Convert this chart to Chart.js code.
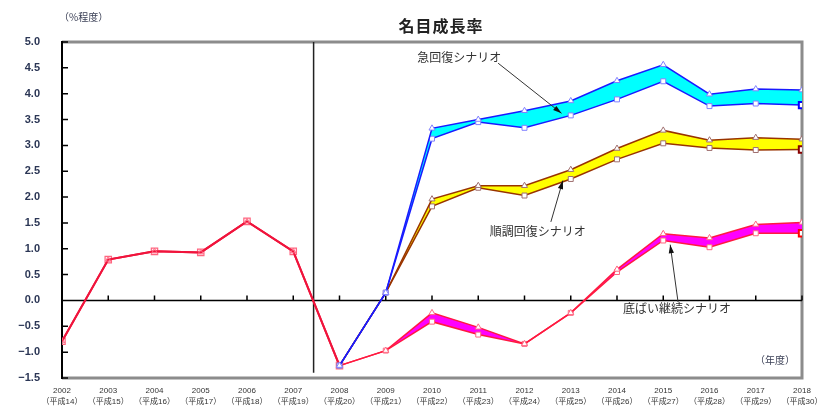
<!DOCTYPE html>
<html>
<head>
<meta charset="utf-8">
<script src="https://cdn.jsdelivr.net/npm/chart.js@4/dist/chart.umd.min.js"></script>
<style>
  html, body { margin: 0; padding: 0; background: #fff; }
  #wrap { width: 821px; height: 407px; }
</style>
</head>
<body>
<div id="wrap"><canvas id="growthChart"></canvas></div>
<script>
// x axis
const yearLabels = ['2002', '2003', '2004', '2005', '2006', '2007', '2008', '2009', '2010',
  '2011', '2012', '2013', '2014', '2015', '2016', '2017', '2018'];
const heiseiLabels = ['（平成14）', '（平成15）', '（平成16）', '（平成17）', '（平成18）', '（平成19）',
  '（平成20）', '（平成21）', '（平成22）', '（平成23）', '（平成24）', '（平成25）', '（平成26）',
  '（平成27）', '（平成28）', '（平成29）', '（平成30）'];
const yTickLabels = ['−1.5', '−1.0', '−0.5', '0.0', '0.5', '1.0', '1.5', '2.0', '2.5',
  '3.0', '3.5', '4.0', '4.5', '5.0'];

// actual values 2002-2008
const histYears = [2002, 2003, 2004, 2005, 2006, 2007, 2008];
const histValues = [-0.79, 0.79, 0.95, 0.93, 1.53, 0.95, -1.26];

// scenarios 2008-2018 (upper / lower edge of each band)
const scenarioYears = [2008, 2009, 2010, 2011, 2012, 2013, 2014, 2015, 2016, 2017, 2018];
const rapidHigh  = [-1.26, 0.15, 3.33, 3.50, 3.67, 3.86, 4.25, 4.56, 3.99, 4.09, 4.07];
const rapidLow   = [-1.26, 0.15, 3.13, 3.45, 3.34, 3.58, 3.89, 4.24, 3.76, 3.81, 3.78];
const steadyHigh = [-1.26, 0.15, 1.96, 2.22, 2.22, 2.53, 2.94, 3.29, 3.10, 3.15, 3.12];
const steadyLow  = [-1.26, 0.15, 1.82, 2.18, 2.03, 2.35, 2.73, 3.04, 2.95, 2.91, 2.92];
const flatHigh   = [-1.26, -0.97, -0.24, -0.52, -0.84, -0.24, 0.60, 1.29, 1.21, 1.47, 1.51];
const flatLow    = [-1.26, -0.97, -0.41, -0.66, -0.84, -0.24, 0.55, 1.16, 1.03, 1.30, 1.30];

const dividerYear = 2007.44;

function pts(xs, vals) {
  return vals.map((v, i) => ({ x: xs[i], y: v }));
}

const last = scenarioYears.length - 1;
function edge(data, line, marker, style, fillColor, lastColor) {
  return {
    data: data,
    borderColor: line,
    borderWidth: 1.5,
    backgroundColor: fillColor || 'transparent',
    fill: fillColor ? '+1' : false,
    pointStyle: style,
    pointRadius: c => (style === 'rect' && c.dataIndex === last) ? 4.5 : 3.5,
    pointBorderWidth: c => (style === 'rect' && c.dataIndex === last) ? 2 : 1,
    pointBorderColor: c => (style === 'rect' && c.dataIndex === last && lastColor) ? lastColor : marker,
    pointBackgroundColor: '#fff'
  };
}

const annotations = [
  { text: '急回復シナリオ', x: 2009.68, y: 4.71, from: [2011.43, 4.59], to: [2012.80, 3.62] },
  { text: '順調回復シナリオ', x: 2011.25, y: 1.33, from: [2012.57, 1.52], to: [2012.83, 2.32] },
  { text: '底ばい継続シナリオ', x: 2014.13, y: -0.15, from: [2015.32, -0.03], to: [2015.15, 1.08] }
];

const framePlugin = {
  id: 'frame',
  beforeDraw(chart) {
    const { ctx, chartArea: a, scales: { x, y } } = chart;
    ctx.save();
    ctx.strokeStyle = '#8c8c8c';
    ctx.lineWidth = 3;
    ctx.beginPath();
    ctx.moveTo(a.left, a.top);
    ctx.lineTo(a.right, a.top);
    ctx.lineTo(a.right, a.bottom);
    ctx.lineTo(a.left, a.bottom);
    ctx.stroke();

    ctx.strokeStyle = '#000';
    ctx.lineWidth = 2;
    ctx.beginPath();
    ctx.moveTo(a.left, a.top - 1);
    ctx.lineTo(a.left, a.bottom + 1);
    ctx.stroke();

    ctx.lineWidth = 1.5;
    ctx.beginPath();
    y.ticks.forEach(t => {
      const py = y.getPixelForValue(t.value);
      ctx.moveTo(a.left, py);
      ctx.lineTo(a.left + 6, py);
    });
    const y0 = y.getPixelForValue(0);
    ctx.moveTo(a.left, y0);
    ctx.lineTo(a.right, y0);
    x.ticks.forEach(t => {
      const px = x.getPixelForValue(t.value);
      ctx.moveTo(px, y0);
      ctx.lineTo(px, y0 - 5);
    });
    ctx.stroke();

    const dx = x.getPixelForValue(dividerYear);
    ctx.strokeStyle = '#222';
    ctx.lineWidth = 1.5;
    ctx.beginPath();
    ctx.moveTo(dx, a.top);
    ctx.lineTo(dx, y.getPixelForValue(-1.4));
    ctx.stroke();
    ctx.restore();
  },
  afterDraw(chart) {
    const { ctx, chartArea: a, scales: { x, y } } = chart;
    ctx.save();
    ctx.fillStyle = '#222';
    ctx.font = 'bold 16px "Noto Sans CJK JP"';
    ctx.textAlign = 'center';
    ctx.textBaseline = 'middle';
    if ('letterSpacing' in ctx) ctx.letterSpacing = '1px';
    ctx.fillText('名目成長率', (a.left + a.right) / 2 + 9, 26);
    if ('letterSpacing' in ctx) ctx.letterSpacing = '0px';

    ctx.fillStyle = '#3a3f55';
    ctx.font = '10px "Noto Sans CJK JP"';
    ctx.textAlign = 'left';
    ctx.fillText('（%程度）', 59, 17);
    ctx.fillText('（年度）', 755, 360);

    ctx.font = '12px "Noto Sans CJK JP"';
    annotations.forEach(n => {
      ctx.fillStyle = '#333';
      ctx.fillText(n.text, x.getPixelForValue(n.x), y.getPixelForValue(n.y));
      const x1 = x.getPixelForValue(n.from[0]), y1 = y.getPixelForValue(n.from[1]);
      const x2 = x.getPixelForValue(n.to[0]), y2 = y.getPixelForValue(n.to[1]);
      ctx.strokeStyle = '#333';
      ctx.lineWidth = 1;
      ctx.beginPath();
      ctx.moveTo(x1, y1);
      ctx.lineTo(x2, y2);
      ctx.stroke();
      const ang = Math.atan2(y2 - y1, x2 - x1);
      ctx.fillStyle = '#111';
      ctx.beginPath();
      ctx.moveTo(x2, y2);
      ctx.lineTo(x2 - 9 * Math.cos(ang - 0.3), y2 - 9 * Math.sin(ang - 0.3));
      ctx.lineTo(x2 - 9 * Math.cos(ang + 0.3), y2 - 9 * Math.sin(ang + 0.3));
      ctx.closePath();
      ctx.fill();
    });
    ctx.restore();
  }
};

new Chart(document.getElementById('growthChart'), {
  type: 'line',
  data: {
    datasets: [
      edge(pts(scenarioYears, rapidHigh), '#1a1aff', '#8080ff', 'triangle', '#00ffff'),
      edge(pts(scenarioYears, rapidLow), '#1a1aff', '#8080ff', 'rect', null, '#0000ff'),
      edge(pts(scenarioYears, steadyHigh), '#993300', '#a07070', 'triangle', '#ffff00'),
      edge(pts(scenarioYears, steadyLow), '#993300', '#a07070', 'rect', null, '#880000'),
      edge(pts(scenarioYears, flatHigh), '#ff1a40', '#ff6680', 'triangle', '#ff00ff'),
      edge(pts(scenarioYears, flatLow), '#ff1a40', '#ff6680', 'rect', null, '#ff0000'),
      {
        data: pts(histYears, histValues),
        borderColor: '#f0143c',
        borderWidth: 2,
        fill: false,
        pointStyle: 'triangle',
        pointRadius: 3,
        pointBorderWidth: 1,
        pointBorderColor: '#ff6680',
        pointBackgroundColor: 'transparent'
      },
      {
        data: pts(histYears, histValues),
        borderColor: '#f0143c',
        borderWidth: 2,
        fill: false,
        pointStyle: 'rect',
        pointRadius: 4.5,
        pointBorderWidth: 1.2,
        pointBorderColor: '#ff6680',
        pointBackgroundColor: 'rgba(255,230,235,0.6)'
      }
    ]
  },
  options: {
    responsive: true,
    maintainAspectRatio: false,
    animation: false,
    layout: { padding: { top: 42, right: 19, left: 0, bottom: 0 } },
    elements: { line: { tension: 0 } },
    plugins: {
      legend: { display: false },
      tooltip: { enabled: false },
      filler: { drawTime: 'beforeDatasetsDraw' }
    },
    scales: {
      x: {
        type: 'linear',
        min: 2002,
        max: 2018,
        grid: { display: false },
        border: { display: false },
        afterFit: s => { s.height = 29; s.paddingLeft = 0; s.paddingRight = 0; },
        ticks: {
          stepSize: 1,
          autoSkip: false,
          maxRotation: 0,
          padding: 0,
          color: '#333',
          font: { family: '"Liberation Sans", "Noto Sans CJK JP"', size: 8, lineHeight: 1.3 },
          callback: (v, i) => [yearLabels[i], heiseiLabels[i]]
        }
      },
      y: {
        min: -1.5,
        max: 5,
        grid: { display: false },
        border: { display: false },
        afterFit: s => { s.width = 62; },
        ticks: {
          stepSize: 0.5,
          padding: 14,
          color: '#2b3655',
          font: { family: '"Liberation Sans"', size: 11, weight: 'bold' },
          callback: (v, i) => yTickLabels[i]
        }
      }
    }
  },
  plugins: [framePlugin]
});
</script>
</body>
</html>
